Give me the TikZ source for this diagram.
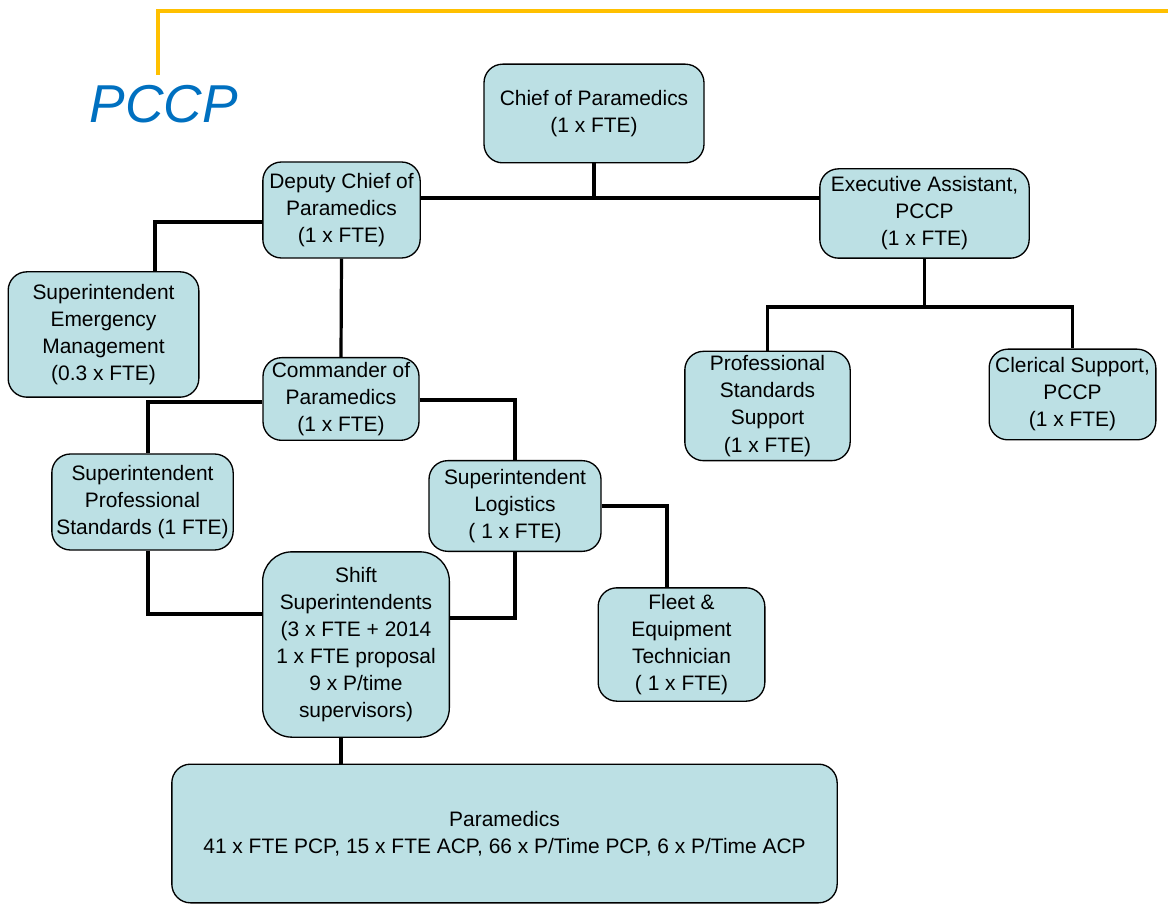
\documentclass[tikz,border=0pt]{standalone}
\usepackage{fontspec}
\setmainfont{Liberation Sans}
\usepackage{xcolor}
\usetikzlibrary{positioning}
\definecolor{boxfill}{HTML}{BCE0E4}
\definecolor{titleblue}{HTML}{0070C0}
\definecolor{rulegold}{HTML}{FFC000}

\begin{document}
\begin{tikzpicture}[
    x=0.75pt, y=-0.75pt,
    post/.style={rounded corners=14pt, draw, line width=1pt, fill=boxfill, inner sep=+0pt,
      align=center, font=\fontsize{15.7}{20.3}\selectfont},
    link/.style={draw, line width=2.4pt}
]
\useasboundingbox (0,0) rectangle (1168,905);
\draw[rulegold, line width=3pt] (158,75) -- (158,11) -- (1168,11);
\node[font=\fontsize{40}{44}\selectfont\itshape, text=titleblue] (T) at (164,104) {PCCP};

\node[post, minimum width=165pt, minimum height=74pt] (CH) at (594,113.5) {Chief of Paramedics\\(1 x FTE)};
\node[post, minimum width=118pt, minimum height=72pt] (DC) at (341.5,210) {Deputy Chief of\\Paramedics\\(1 x FTE)};
\node[post, minimum width=157pt, minimum height=67pt] (EA) at (924.5,213.5) {Executive Assistant,\\PCCP\\(1 x FTE)};
\node[post, minimum width=143pt, minimum height=94pt] (SEM) at (103.5,334.5) {Superintendent\\Emergency\\Management\\(0.3 x FTE)};
\node[post, minimum width=117pt, minimum height=62pt] (CM) at (341,399) {Commander of\\Paramedics\\(1 x FTE)};
\node[post, minimum width=124pt, minimum height=82pt] (PSS) at (767.5,406) {Professional\\Standards\\Support\\(1 x FTE)};
\node[post, minimum width=125pt, minimum height=68pt] (CS) at (1072.5,394.5) {Clerical Support,\\PCCP\\(1 x FTE)};
\node[post, minimum width=136pt, minimum height=72pt] (SPS) at (142.5,502) {Superintendent\\Professional\\Standards (1 FTE)};
\node[post, minimum width=129pt, minimum height=68pt] (SL) at (515,506) {Superintendent\\Logistics\\( 1 x FTE)};
\node[post, rounded corners=22pt, minimum width=140pt, minimum height=139pt] (SS) at (356,644.5) {Shift\\Superintendents\\(3 x FTE + 2014\\1 x FTE proposal\\9 x P/time\\supervisors)};
\node[post, minimum width=125pt, minimum height=85pt] (FT) at (681.5,644.5) {Fleet \&\\Equipment\\Technician\\( 1 x FTE)};
\node[post, minimum width=499pt, minimum height=104pt] (PM) at (504.5,833.5) {Paramedics\\41 x FTE PCP, 15 x FTE ACP, 66 x P/Time PCP, 6 x P/Time ACP};

% joints
\coordinate (jA) at (594,198);
\coordinate (jB) at (155,222);
\coordinate (jC) at (148,402);
\coordinate (jD) at (515,400);
\coordinate (jE) at (148,614);
\coordinate (jF) at (515,618);
\coordinate (jG) at (667,506);
\coordinate (jH) at (341,750);
\coordinate (jI) at (924,307);

\draw[link] (CH.south) -- (jA);
\draw[link] (DC.east |- jA) -- (EA.west |- jA);
\draw[link] (DC.west |- jB) -- (jB) -- (jB |- SEM.north);
\draw[link] (DC.south) -- (CM.north);
\draw[link] (CM.west |- jC) -- (jC) -- (jC |- SPS.north);
\draw[link] (CM.east |- jD) -- (jD) -- (SL.north);
\draw[link] (jC |- SPS.south) -- (jE) -- (SS.west |- jE);
\draw[link] (SL.south) -- (jF) -- (SS.east |- jF);
\draw[link] (SL.east |- jG) -- (jG) -- (jG |- FT.north);
\draw[link] (jH |- SS.south) -- (jH |- PM.north);
\draw[link] (EA.south) -- (EA.south |- jI);
\draw[link] (PSS.north) -- (PSS.north |- jI) -- (CS.north |- jI) -- (CS.north);
\end{tikzpicture}
\end{document}
